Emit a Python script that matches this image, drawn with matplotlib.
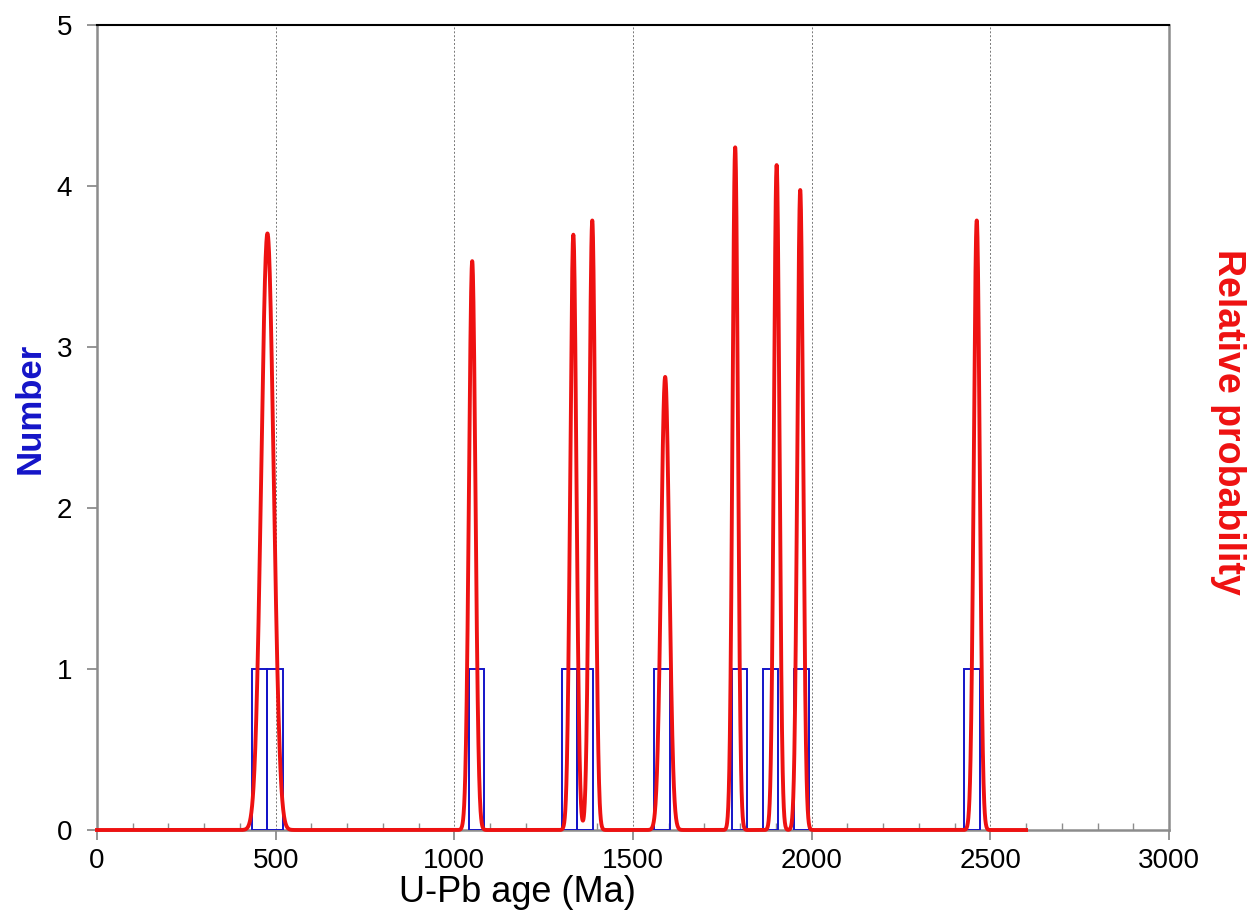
import matplotlib
matplotlib.use("Agg")
import matplotlib.pyplot as plt
from matplotlib.ticker import MultipleLocator
import numpy as np

plt.rcParams['font.family'] = ['Liberation Sans', 'DejaVu Sans']

# histogram bins (Ma): 60 bins over 0-2600
bin_edges = np.linspace(0, 2600, 61)

grain_ages = [470, 484, 1050, 1333, 1386, 1590, 1786, 1902, 1968, 2462]
grain_sigmas = [15.5, 15.5, 9.0, 8.6, 8.4, 11.3, 7.5, 7.7, 8.0, 8.4]
prob_scale = 31.8   # relative probability scaling onto the 0-5 axis

x_ticks = [0, 500, 1000, 1500, 2000, 2500, 3000]
y_ticks = [0, 1, 2, 3, 4, 5]

axis_grey = '#8c8c8c'

fig = plt.figure(figsize=(12.59, 9.24), dpi=100)
ax = fig.add_axes([97/1259, 94/924, 1072/1259, 805/924])

# histogram (blue outlines)
counts, _ = np.histogram(grain_ages, bins=bin_edges)
widths = np.diff(bin_edges)
has = counts > 0
ax.bar(bin_edges[:-1][has], counts[has], width=widths[has], align='edge',
       fill=False, edgecolor='#1414c8', linewidth=1.4, zorder=3)

ax.set_xlim(0, 3000)
ax.set_ylim(0, 5)
ax.set_xticks(x_ticks)
ax.set_yticks(y_ticks)
ax.xaxis.set_minor_locator(MultipleLocator(100))
ax.grid(axis='x', which='major', linestyle=(0, (2, 2)), color='#777777', linewidth=0.7)

for side in ['left', 'bottom', 'right']:
    ax.spines[side].set_color(axis_grey)
    ax.spines[side].set_linewidth(1.8)
ax.spines['top'].set_color('black')
ax.spines['top'].set_linewidth(1.5)

ax.tick_params(axis='x', which='major', direction='out', length=7, width=1.3,
               color=axis_grey, labelsize=20, pad=6)
ax.tick_params(axis='x', which='minor', direction='in', length=5, width=1.0,
               color=axis_grey)
ax.tick_params(axis='y', which='major', direction='out', length=7, width=1.3,
               color=axis_grey, labelsize=20, pad=11)

# probability density curve (red) on the right axis
ax2 = ax.twinx()
ages_x = np.linspace(0, 2600, 5201)
prob = np.zeros_like(ages_x)
for a, s in zip(grain_ages, grain_sigmas):
    prob += prob_scale / s * np.exp(-0.5 * ((ages_x - a) / s) ** 2)
ax2.plot(ages_x, prob, color='#ee1111', linewidth=2.8, clip_on=False)
ax2.set_ylim(0, 5)
ax2.set_yticks([])
for side in ax2.spines:
    ax2.spines[side].set_visible(False)

fig.text(517/1259, 1 - 893/924, "U-Pb age (Ma)", fontsize=26,
         ha='center', va='center')
fig.text(30/1259, 1 - 408/924, "Number", rotation=90, color='#1414c8',
         fontsize=25, fontweight='bold', ha='center', va='center')
fig.text(1228/1259, 1 - 422/924, "Relative probability", rotation=-90, color='#ee1111',
         fontsize=27, fontweight='bold', ha='center', va='center')

fig.savefig("out.png", dpi=100)
